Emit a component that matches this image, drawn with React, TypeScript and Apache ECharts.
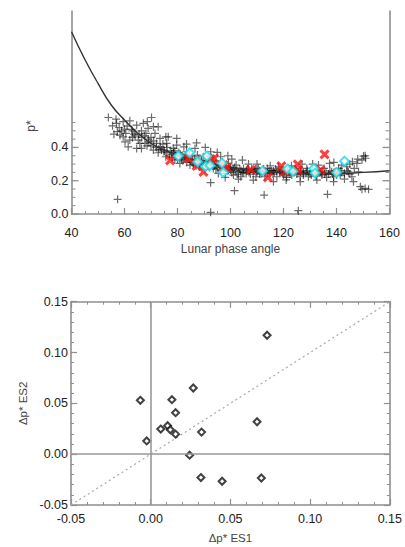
import React, { useEffect, useRef } from 'react';
import * as echarts from 'echarts';

// ---------- Top panel data ----------
const phaseMin = 40;
const phaseMax = 160;
const pMax = 1.22;
const pLabelValues = [0, 0.2, 0.4];
const pTickValues = [0, 0.05, 0.1, 0.15, 0.2, 0.25, 0.3, 0.35, 0.4, 0.45, 0.5, 0.55];

const curveX = [40, 45, 50, 55, 60, 65, 70, 75, 80, 85, 90, 95, 100, 110, 120, 130, 140, 150, 160];
const curveY = [1.095, 0.93, 0.785, 0.655, 0.565, 0.485, 0.425, 0.385, 0.355, 0.33, 0.31, 0.292, 0.278, 0.258, 0.247, 0.242, 0.243, 0.25, 0.26];

const allPoints: number[][] = [
  [53.9, 0.58], [56.8, 0.57], [58.0, 0.52], [58.9, 0.5], [57.3, 0.495], [59.5, 0.464], [58.3, 0.474], [60.5, 0.484],
  [61.0, 0.528], [62.7, 0.508], [63.6, 0.48], [64.6, 0.534], [65.2, 0.444], [66.4, 0.5], [67.1, 0.545], [68.6, 0.555],
  [68.1, 0.484], [70.2, 0.58], [70.9, 0.525], [69.2, 0.434], [67.7, 0.424], [65.8, 0.424], [62.0, 0.444], [60.2, 0.434],
  [61.4, 0.404], [64.6, 0.394], [66.4, 0.394], [71.5, 0.484], [72.1, 0.424], [73.4, 0.454], [73.6, 0.404], [74.9, 0.374],
  [72.7, 0.368], [70.9, 0.384], [75.9, 0.424], [76.5, 0.464], [75.6, 0.344], [77.8, 0.36], [78.4, 0.394], [79.7, 0.414],
  [79.0, 0.324], [80.9, 0.304], [81.6, 0.344], [82.4, 0.404], [83.4, 0.374], [84.7, 0.294], [85.7, 0.344], [86.6, 0.394],
  [87.5, 0.354], [88.2, 0.284], [89.7, 0.344], [90.4, 0.314], [91.6, 0.294], [92.5, 0.374], [93.5, 0.274], [94.5, 0.314],
  [95.4, 0.244], [96.3, 0.344], [97.3, 0.274], [97.9, 0.244], [99.2, 0.304], [100.1, 0.264], [101.1, 0.234], [102.1, 0.294],
  [103.0, 0.254], [103.9, 0.224], [104.9, 0.274], [105.9, 0.244], [106.8, 0.3], [108.6, 0.254], [109.6, 0.224], [110.5, 0.274],
  [111.5, 0.244], [113.0, 0.224], [113.9, 0.274], [114.9, 0.244], [116.2, 0.26], [117.5, 0.224], [118.1, 0.284], [119.7, 0.244],
  [121.2, 0.22], [122.2, 0.26], [123.1, 0.234], [124.4, 0.274], [126.3, 0.224], [127.5, 0.248], [128.8, 0.274], [129.4, 0.224],
  [130.7, 0.254], [132.3, 0.228], [133.2, 0.294], [134.5, 0.244], [135.3, 0.274], [136.3, 0.22], [137.4, 0.304], [138.2, 0.254],
  [138.9, 0.224], [140.8, 0.274], [141.4, 0.234], [142.0, 0.294], [143.9, 0.284], [144.5, 0.254], [145.8, 0.224], [146.7, 0.274],
  [147.7, 0.304], [149.6, 0.324], [150.2, 0.348], [148.3, 0.254], [146.4, 0.194],
  [75.6, 0.464], [79.7, 0.454], [83.4, 0.42], [87.2, 0.428], [104.5, 0.324], [90.5, 0.4], [95, 0.37], [99, 0.35], [100.5, 0.33],
  [55.5, 0.53], [57, 0.545], [59.5, 0.555], [62, 0.56], [60, 0.51], [56, 0.48], [63, 0.46], [72.7, 0.524], [68.9, 0.515],
  [72, 0.4], [73, 0.39], [74, 0.385], [75, 0.38], [76, 0.37], [77, 0.35], [78, 0.34], [78.5, 0.37], [79.5, 0.35], [80, 0.33],
  [81, 0.36], [82, 0.32], [82.5, 0.34], [83.5, 0.31], [84, 0.33], [85, 0.32], [86, 0.3], [86.5, 0.33], [87.5, 0.31], [88.5, 0.3],
  [89, 0.32], [90, 0.29], [91, 0.31], [92, 0.28], [93, 0.3], [94, 0.29], [95, 0.28], [96, 0.29], [96.5, 0.26], [98, 0.28],
  [99, 0.26], [100, 0.28], [101, 0.27],
  [102, 0.26], [103.5, 0.27], [104.5, 0.25], [106, 0.26], [107, 0.25], [108, 0.27], [109, 0.26], [110, 0.25], [111, 0.26],
  [112, 0.25], [113, 0.26], [114, 0.25], [115.5, 0.26], [116.5, 0.25], [117.5, 0.26], [118.5, 0.25], [119.5, 0.265], [120.5, 0.245],
  [121.5, 0.255], [122.5, 0.24], [124, 0.25], [125, 0.24], [126.5, 0.255], [127.5, 0.235], [128.5, 0.25], [130, 0.24], [131, 0.26],
  [132, 0.245], [133.5, 0.255], [134.5, 0.235], [136, 0.25], [137, 0.24], [139, 0.25], [140, 0.235], [141.5, 0.26], [143, 0.245], [145, 0.24],
  [92.5, 0.188], [108.6, 0.204], [116.2, 0.194], [126.3, 0.194], [132.6, 0.204], [138.9, 0.194], [143, 0.21], [98, 0.22], [103, 0.21], [121, 0.205],
  [57.4, 0.088], [112.7, 0.114], [101.5, 0.14], [136.6, 0.118], [149, 0.164], [149.6, 0.148], [152.1, 0.148], [150.8, 0.154], [92.5, 0.01], [125.6, 0.02],
  [110, 0.3], [115, 0.29], [123, 0.29], [127, 0.3], [131, 0.3], [139, 0.31], [145, 0.3], [148, 0.33], [151, 0.335], [150.8, 0.35], [146, 0.314],
  [63, 0.5], [64, 0.47], [65.5, 0.48], [66.5, 0.46], [67.5, 0.47], [69, 0.45], [70, 0.46], [71, 0.44], [70, 0.41], [68.5, 0.41],
  [74.5, 0.42], [76, 0.4], [77.5, 0.38], [79, 0.38], [80.5, 0.37], [81.5, 0.33], [83, 0.35], [84.5, 0.35], [85.5, 0.31], [87, 0.29],
  [88, 0.33], [89.5, 0.3], [90.5, 0.27], [91.5, 0.32], [92.5, 0.3], [93.5, 0.32], [94.5, 0.27], [95.5, 0.3], [97, 0.31], [98.5, 0.29],
  [99.5, 0.27], [100.5, 0.25], [101.5, 0.28], [102.5, 0.24], [104, 0.26], [105, 0.25], [106.5, 0.27], [107.5, 0.24], [109.5, 0.27], [111, 0.24],
  [112.5, 0.27], [114.5, 0.26], [116, 0.24], [117, 0.27], [119, 0.255], [120, 0.235], [122, 0.25], [123.5, 0.265], [125.5, 0.25], [127, 0.26],
  [129, 0.26], [130.5, 0.235], [132.5, 0.26], [134, 0.25], [135.5, 0.24], [137.5, 0.26], [138.5, 0.24], [140.5, 0.25], [142, 0.25], [144, 0.26]
];

const es1Points: number[][] = [
  [77.2, 0.322], [84.1, 0.334], [87.2, 0.289], [89.8, 0.253], [92.5, 0.33], [93.8, 0.335], [97.4, 0.294], [98.6, 0.279],
  [107.6, 0.266], [114.1, 0.22], [119.2, 0.288], [120.5, 0.254], [125.4, 0.298], [125.5, 0.264], [134.0, 0.264], [135.5, 0.358]
];

const es2Points: number[][] = [
  [80.3, 0.348], [84.6, 0.368], [87.6, 0.314], [91.1, 0.348], [90.6, 0.286], [92.3, 0.292], [96.8, 0.306], [97.3, 0.249],
  [112.1, 0.259], [121.5, 0.27], [123.6, 0.256], [131.4, 0.274], [131.9, 0.246], [140.1, 0.249], [143.0, 0.318]
];

// ---------- Bottom panel data ----------
const dMin = -0.05;
const dMax = 0.15;
const dStep = 0.05;
const deltaES1 = [-0.0065, -0.0025, 0.0063, 0.0106, 0.0123, 0.0133, 0.0156, 0.0156, 0.0267, 0.0244, 0.0319, 0.0315, 0.0448, 0.0667, 0.0694, 0.073];
const deltaES2 = [0.053, 0.013, 0.0247, 0.028, 0.024, 0.0536, 0.0408, 0.0197, 0.0651, -0.001, 0.0217, -0.023, -0.0266, 0.0319, -0.0234, 0.117];
const diagonal = [dMin, dMax];

const AXIS = '#8f8f8f';
const FONT = 'Liberation Sans, Arial, Helvetica, sans-serif';
const plusSymbol = 'path://M5,0L5,10M0,5L10,5';
const crossSymbol = 'path://M0,0L10,10M10,0L0,10';

export default function App() {
  const ref = useRef<HTMLDivElement>(null);
  useEffect(() => {
    if (!ref.current) return;
    const chart = echarts.init(ref.current, null, { renderer: 'svg' });

    const labelStyle = { color: '#222', fontSize: 12.5, fontFamily: FONT };
    const lineStyle = { color: AXIS, width: 1.6 };

    const bottomAxisCommon = (pos: 'bottom' | 'top', showLabel: boolean) => ({
      type: 'value',
      gridIndex: 1,
      position: pos,
      min: dMin,
      max: dMax,
      interval: dStep,
      axisLine: { show: true, onZero: false, lineStyle },
      axisTick: { show: true, inside: true, length: 6, lineStyle: { color: AXIS, width: 1.2 } },
      minorTick: { show: true, splitNumber: 5, length: 3, lineStyle: { color: AXIS, width: 1 } },
      splitLine: { show: false },
      minorSplitLine: { show: false },
      axisLabel: { show: showLabel, margin: 7, ...labelStyle, formatter: (v: number) => v.toFixed(2) },
    });

    const bottomYCommon = (pos: 'left' | 'right', showLabel: boolean) => ({
      type: 'value',
      gridIndex: 1,
      position: pos,
      min: dMin,
      max: dMax,
      interval: dStep,
      axisLine: { show: true, onZero: false, lineStyle },
      axisTick: { show: true, inside: true, length: 6, lineStyle: { color: AXIS, width: 1.2 } },
      minorTick: { show: true, splitNumber: 5, length: 3, lineStyle: { color: AXIS, width: 1 } },
      splitLine: { show: false },
      minorSplitLine: { show: false },
      axisLabel: { show: showLabel, margin: 3, ...labelStyle, formatter: (v: number) => v.toFixed(2) },
    });

    const isMajor = (v: number) => pLabelValues.some((p) => Math.abs(p - v) < 1e-6);

    const option: any = {
      animation: false,
      backgroundColor: '#fff',
      grid: [
        { left: 71.5, top: 11, width: 318, height: 203 },
        { left: 71, top: 301.7, width: 319.5, height: 203.3 },
      ],
      xAxis: [
        {
          type: 'value',
          gridIndex: 0,
          min: phaseMin,
          max: phaseMax,
          interval: 20,
          name: 'Lunar phase angle',
          nameLocation: 'middle',
          nameGap: 29,
          nameTextStyle: { color: '#444', fontSize: 12, fontFamily: FONT },
          axisLine: { show: true, onZero: false, lineStyle },
          axisTick: { show: true, inside: true, length: 6, lineStyle: { color: AXIS, width: 1.2 } },
          minorTick: { show: true, splitNumber: 4, length: 3, lineStyle: { color: AXIS, width: 1 } },
          splitLine: { show: false },
          axisLabel: { margin: 12, ...labelStyle },
        },
        {
          ...bottomAxisCommon('bottom', true),
          name: 'Δp* ES1',
          nameLocation: 'middle',
          nameGap: 27,
          nameTextStyle: { color: '#444', fontSize: 11.5, fontFamily: FONT },
        },
        bottomAxisCommon('top', false),
      ],
      yAxis: [
        {
          type: 'value',
          gridIndex: 0,
          position: 'left',
          min: 0,
          max: pMax,
          interval: 0.2,
          axisLine: { show: true, onZero: false, lineStyle },
          axisTick: { show: false },
          splitLine: { show: false },
          axisLabel: {
            margin: 3,
            ...labelStyle,
            formatter: (v: number) => (isMajor(v) ? v.toFixed(1) : ''),
          },
        },
        {
          type: 'value',
          gridIndex: 0,
          position: 'right',
          min: 0,
          max: pMax,
          interval: 0.2,
          axisLine: { show: true, onZero: false, lineStyle },
          axisTick: { show: false },
          splitLine: { show: false },
          axisLabel: { show: false },
        },
        {
          ...bottomYCommon('left', true),
          name: 'Δp* ES2',
          nameLocation: 'middle',
          nameGap: 37,
          nameRotate: 90,
          nameTextStyle: { color: '#444', fontSize: 11.5, fontFamily: FONT },
        },
        bottomYCommon('right', false),
      ],
      graphic: [
        {
          type: 'text',
          x: 31,
          y: 126,
          rotation: Math.PI / 2,
          style: { text: 'p*', fill: '#444', font: `12px ${FONT}`, align: 'center', verticalAlign: 'middle' },
        },
      ],
      series: [
        {
          type: 'custom',
          xAxisIndex: 0,
          yAxisIndex: 0,
          silent: true,
          clip: false,
          data: pTickValues.map((v) => [phaseMin, v, isMajor(v) ? 1 : 0]),
          renderItem: (params: any, api: any) => {
            const v = api.value(1);
            const major = api.value(2) === 1;
            const l = api.coord([phaseMin, v]);
            const r = api.coord([phaseMax, v]);
            const len = major ? 7 : 4;
            const style = { stroke: AXIS, lineWidth: major ? 1.3 : 1 };
            return {
              type: 'group',
              children: [
                { type: 'line', shape: { x1: l[0], y1: l[1], x2: l[0] + len, y2: l[1] }, style },
                { type: 'line', shape: { x1: r[0], y1: r[1], x2: r[0] - len, y2: r[1] }, style },
              ],
            };
          },
        },
        {
          type: 'scatter',
          xAxisIndex: 0,
          yAxisIndex: 0,
          data: allPoints,
          symbol: plusSymbol,
          symbolSize: 8,
          itemStyle: { color: 'none', borderColor: 'rgba(0,0,0,0.72)', borderWidth: 1.2 },
          z: 2,
        },
        {
          type: 'line',
          xAxisIndex: 0,
          yAxisIndex: 0,
          data: curveX.map((x, i) => [x, curveY[i]]),
          smooth: true,
          showSymbol: false,
          lineStyle: { color: '#333', width: 1.4 },
          z: 3,
        },
        {
          type: 'scatter',
          xAxisIndex: 0,
          yAxisIndex: 0,
          data: es1Points,
          symbol: crossSymbol,
          symbolSize: 8,
          itemStyle: { color: 'none', borderColor: '#ff1010', borderWidth: 3 },
          z: 4,
        },
        {
          type: 'scatter',
          xAxisIndex: 0,
          yAxisIndex: 0,
          data: es2Points,
          symbol: 'emptyDiamond',
          symbolSize: 9,
          itemStyle: { color: '#10e0e8', borderColor: '#10e0e8', borderWidth: 2.2 },
          z: 4,
        },
        {
          type: 'line',
          xAxisIndex: 1,
          yAxisIndex: 2,
          data: diagonal.map((v) => [v, v]),
          showSymbol: false,
          lineStyle: { color: '#a8a8a8', width: 1.2, type: [2, 3] },
          z: 2,
        },
        {
          type: 'scatter',
          xAxisIndex: 1,
          yAxisIndex: 2,
          data: deltaES1.map((x, i) => [x, deltaES2[i]]),
          symbol: 'emptyDiamond',
          symbolSize: 7,
          itemStyle: { color: '#111', borderColor: '#111', borderWidth: 1.5 },
          z: 4,
          markLine: {
            silent: true,
            symbol: 'none',
            label: { show: false },
            lineStyle: { color: '#999', type: 'solid', width: 1.6 },
            data: [{ xAxis: 0 }, { yAxis: 0 }],
          },
        },
      ],
    };

    chart.setOption(option);
    return () => chart.dispose();
  }, []);

  return (
    <div
      ref={ref}
      style={{ position: 'fixed', left: 0, top: 0, width: 405, height: 547, background: '#fff' }}
    />
  );
}
